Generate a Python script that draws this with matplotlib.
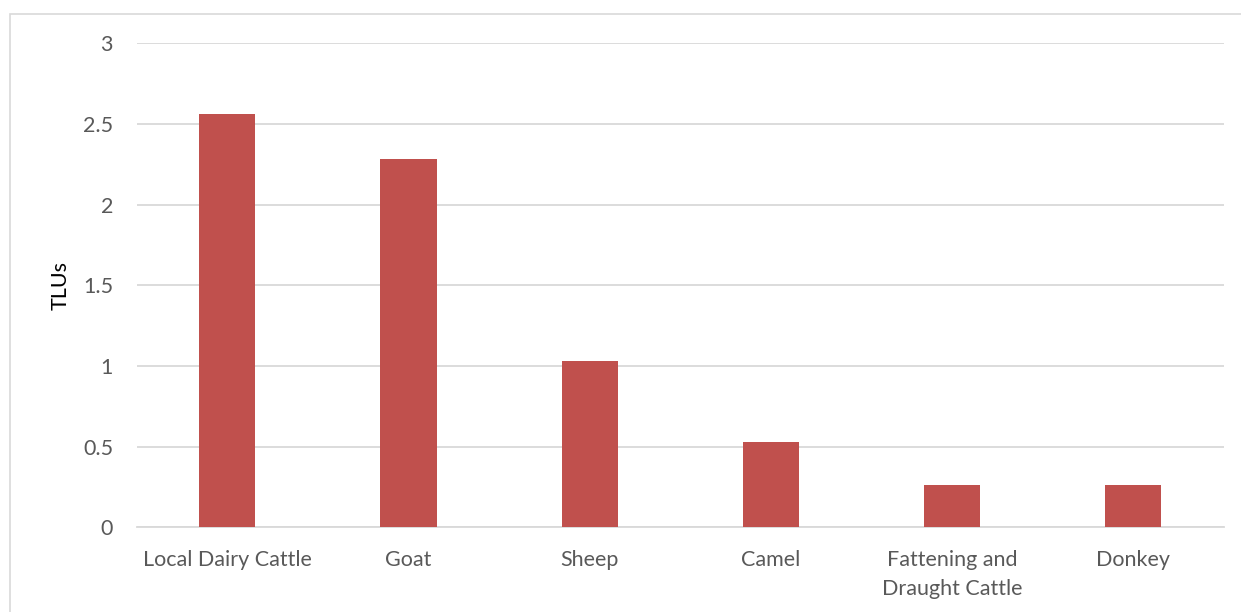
import matplotlib
matplotlib.use("Agg")
import matplotlib.pyplot as plt
from matplotlib.patches import Rectangle

# livestock holdings per household, in tropical livestock units
categories = ["Local Dairy Cattle", "Goat", "Sheep", "Camel",
              "Fattening and\nDraught Cattle", "Donkey"]
tlus = [2.56, 2.28, 1.03, 0.53, 0.26, 0.26]
yticks = [0, 0.5, 1, 1.5, 2, 2.5, 3]
ytick_labels = ["0", "0.5", "1", "1.5", "2", "2.5", "3"]

plt.rcParams['font.family'] = ['Lato', 'DejaVu Sans']
text_col = '#595959'
grid_col = '#d9d9d9'

fig = plt.figure(figsize=(12.41, 6.12), dpi=100)
ax = fig.add_axes([0.1101, 0.1384, 0.8762, 0.7908])

# chart-area outline (runs off the right and bottom edges)
fig.patches.append(Rectangle((10 / 1241, -0.05), 1.1, 1 - 14 / 612 + 0.05,
                             transform=fig.transFigure, fill=False,
                             edgecolor=grid_col, linewidth=1.2))

x = range(len(categories))
ax.bar(x, tlus, width=0.31, color='#c0504d', zorder=3)

ax.set_xlim(-0.5, len(categories) - 0.5)
ax.set_ylim(0, 3)
ax.set_yticks(yticks)
ax.set_yticklabels(ytick_labels)
ax.set_xticks(list(x))
ax.set_xticklabels(categories, linespacing=1.6)

ax.grid(axis='y', color=grid_col, linewidth=1.3, zorder=0)
for s in ['top', 'right', 'left']:
    ax.spines[s].set_visible(False)
ax.spines['bottom'].set_color(grid_col)
ax.spines['bottom'].set_linewidth(1.3)

ax.tick_params(axis='y', length=0, pad=17, labelsize=15.5, labelcolor=text_col)
ax.tick_params(axis='x', length=0, pad=16, labelsize=15.5, labelcolor=text_col)
ax.set_ylabel("TLUs", fontsize=15.5, color='black', labelpad=9)

fig.savefig("out.png", dpi=100)
